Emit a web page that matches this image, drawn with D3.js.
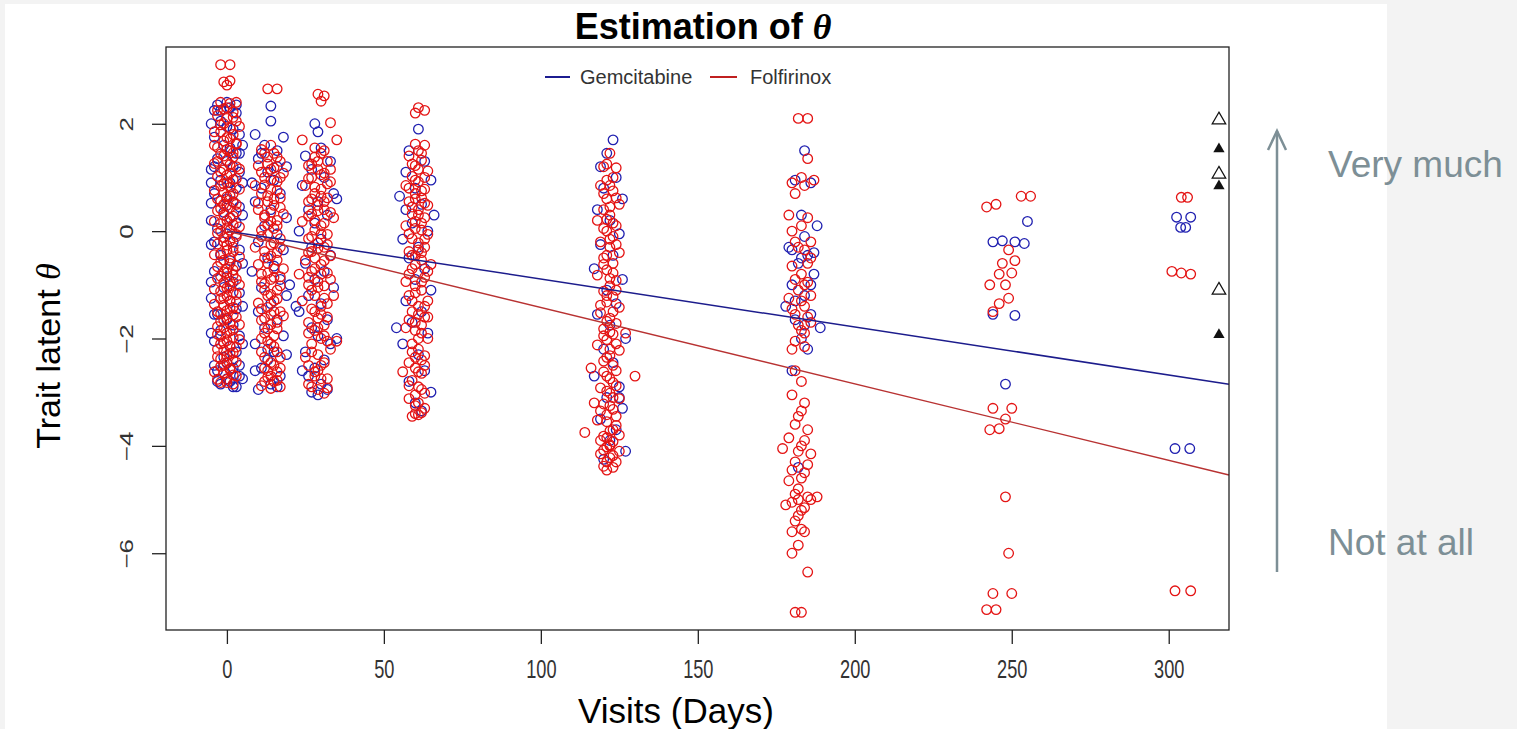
<!DOCTYPE html>
<html><head><meta charset="utf-8">
<script src="https://cdn.jsdelivr.net/npm/d3@7"></script>
<style>body{margin:0;background:#f3f3f3;}svg{display:block;}</style>
</head><body>
<script>
// ---------- DATA ----------
const xTicks = [0, 50, 100, 150, 200, 250, 300];
const yTicks = [2, 0, -2, -4, -6];
const seriesNames = ["Gemcitabine", "Folfirinox"];

// [day, theta] per visit, Gemcitabine
const gemV0 = [[-3,2.35],[1,2.3],[3,2.2],[-2,2.05],[0,1.95],[2,1.9],[-4,1.75],[4,1.8],[-1,1.6],[1,1.55],[3,1.45],[-3,1.35],[0,1.3],[2,1.2],[-5,1.15],[4,1.1],[-2,0.95],[1,0.9],[3,0.8],[-4,0.7],[0,0.6],[2,0.55],[-5,0.52],[4,0.45],[-1,0.35],[1,0.25],[3,0.15],[-3,0.05],[0,-0.05],[-5,-0.25],[2,-0.2],[4,-0.35],[-2,-0.45],[1,-0.55],[3,-0.65],[-4,-0.75],[0,-0.85],[2,-0.95],[-1,-1.05],[4,-1.15],[-5,-1.25],[1,-1.3],[3,-1.45],[-3,-1.55],[0,-1.65],[2,-1.75],[-2,-1.85],[4,-1.95],[-4,-2.05],[1,-2.15],[3,-2.25],[-1,-2.35],[0,-2.45],[2,-2.55],[-3,-2.6],[4,-2.7],[1,-2.8],[-2,-2.85],[3,-2.9],[0,-2.75],
  [-5,2.0],[5,1.6],[-4,1.2],[5,0.3],[-5,0.9],[5,-0.6],[-4,-0.2],[5,-1.4],[-5,-1.9],[5,-2.1],[-4,-2.5],[4,-2.5],[-4,2.25],[3,2.35],[0,2.4],[-5,-0.95],[5,0.9],[-4,-1.55],[4,1.45],[-5,0.2],[-3,-2.8],[2,-2.9],[5,-2.75],[-2,2.25]];
const gemV14 = [[14,2.33],[14,2.05],[9,1.8],[18,1.75],[12,1.6],[16,1.5],[10,1.35],[19,1.2],[13,1.1],[15,0.95],[11,0.8],[17,0.7],[9,0.55],[14,0.4],[19,0.25],[12,0.1],[16,-0.05],[10,-0.2],[18,-0.35],[13,-0.5],[15,-0.65],[8,-0.75],[17,-0.9],[11,-1.05],[19,-1.2],[14,-1.35],[10,-1.5],[16,-1.65],[12,-1.8],[18,-1.95],[9,-2.1],[15,-2.25],[13,-2.4],[11,-2.55],[17,-2.7],[14,-2.85],[10,-2.95],[16,-2.9],[20,-1.0],[8,0.9],
  [19,-2.3],[9,-2.6],[13,-2.2],[16,1.2],[11,1.45]];
const gemV28 = [[28,2.0],[29,1.85],[30,1.55],[25,1.4],[33,1.3],[27,1.15],[31,1.0],[24,0.85],[34,0.7],[29,0.55],[26,0.4],[32,0.3],[28,0.15],[35,0.6],[23,0.0],[30,-0.15],[27,-0.3],[33,-0.45],[25,-0.6],[31,-0.75],[28,-0.9],[34,-1.05],[26,-1.2],[30,-1.35],[23,-1.5],[32,-1.65],[27,-1.8],[29,-1.95],[33,-2.1],[25,-2.25],[31,-2.4],[22,-1.4],[28,-2.55],[26,-2.7],[30,-2.85],[32,-2.95],[27,-3.0],[29,-3.05],[24,-2.6],[35,-2.0]];
const gemV60 = [[61,1.9],[58,1.5],[63,1.3],[57,1.1],[65,0.95],[60,0.8],[55,0.65],[62,0.5],[66,0.3],[59,0.15],[64,0.0],[56,-0.15],[61,-0.3],[58,-0.5],[63,-0.7],[54,-1.8],[60,-0.9],[65,-1.1],[57,-1.3],[62,-1.5],[59,-1.7],[64,-1.9],[56,-2.1],[61,-2.3],[63,-2.6],[58,-2.8],[65,-3.0],[60,-3.2],[62,-3.35],[57,0.4]];
const gemV120 = [[123,1.7],[121,1.45],[119,1.2],[124,1.0],[120,0.8],[126,0.6],[118,0.4],[122,0.2],[125,-0.05],[119,-0.25],[123,-0.45],[117,-0.7],[126,-0.9],[121,-1.1],[124,-1.35],[118,-1.55],[122,-1.75],[127,-2.0],[120,-2.2],[123,-2.45],[117,-2.7],[125,-2.9],[121,-3.1],[126,-3.3],[119,-3.5],[124,-3.7],[122,-3.9],[127,-4.1],[120,-4.25],[125,-3.1]];
const gemV182 = [[184,1.5],[181,0.95],[186,0.9],[183,0.3],[188,0.1],[179,-0.3],[185,-0.45],[182,-0.6],[187,-0.8],[180,-1.0],[184,-1.2],[178,-1.4],[186,-1.55],[181,-1.65],[189,-1.8],[183,-2.0],[185,-2.2],[182,-4.4],[180,-2.6],[184,-0.1],
  [183,-0.5],[186,-1.0],[181,-1.3],[184,-1.75],[180,-0.35],[187,-0.4]];
const gemV245 = [[255,0.18],[244,-0.2],[247,-0.18],[251,-0.2],[254,-0.23],[244,-1.55],[251,-1.57],[248,-2.85]];
const gemV305 = [[302.5,0.26],[307,0.26],[303.8,0.07],[305.4,0.07],[302,-4.05],[306.7,-4.05]];

// [day, theta] per visit, Folfirinox
const folV0 = [[-2,3.1],[1,3.1],[-1,2.78],[1,2.8],[0,2.72],[-2,2.4],[1,2.38],[3,2.4],[-1,2.28],[2,2.22],[-3,2.15],[0,2.1],[3,2.05],[-2,1.98],[1,1.92],[-4,1.85],[2,1.8],[0,1.74],[-1,1.68],[3,1.62],[-3,1.56],[1,1.5],[-2,1.44],[2,1.38],[0,1.32],[-4,1.26],[3,1.2],[-1,1.14],[1,1.08],[-3,1.02],[2,0.96],[0,0.9],[-2,0.84],[4,0.78],[-1,0.72],[1,0.66],[-3,0.6],[2,0.54],[0,0.48],[-2,0.42],[3,0.36],[-1,0.3],[1,0.24],[-4,0.18],[2,0.12],[0,0.06],[-2,0.0],[3,-0.06],[-1,-0.12],[1,-0.18],[-3,-0.24],[2,-0.3],[0,-0.36],[-2,-0.42],[4,-0.48],[-1,-0.54],[1,-0.6],[-3,-0.66],[2,-0.72],[0,-0.78],[-2,-0.84],[3,-0.9],[-1,-0.96],[1,-1.02],[-4,-1.08],[2,-1.14],[0,-1.2],[-2,-1.26],[3,-1.32],[-1,-1.38],[1,-1.44],[-3,-1.5],[2,-1.56],[0,-1.62],[-2,-1.68],[4,-1.74],[-1,-1.8],[1,-1.86],[-3,-1.92],[2,-1.98],[0,-2.04],[-2,-2.1],[3,-2.16],[-1,-2.22],[1,-2.28],[-3,-2.34],[2,-2.4],[0,-2.46],[-2,-2.52],[1,-2.58],[-1,-2.64],[3,-2.7],[0,-2.76],[-2,-2.82],[2,-2.85],
  [0,2.3],[-3,2.25],[2,2.12],[-1,2.0],[4,1.95],[-2,1.85],[1,1.72],[3,1.64],[-4,1.6],[0,1.52],[2,1.46],[-1,1.4],[-3,1.3],[1,1.24],[4,1.16],[-2,1.1],[0,1.04],[3,0.98],[-1,0.88],[1,0.82],[-4,0.76],[2,0.7],[0,0.64],[-2,0.56],[3,0.5],[1,0.44],[-3,0.38],[-1,0.5],[2,0.28],[0,0.2],[-2,0.14],[4,0.08],[1,0.02],[-3,-0.04],[3,-0.1],[-1,-0.2],[0,-0.26],[2,-0.38],[-4,-0.44],[1,-0.5],[-2,-0.58],[3,-0.64],[0,-0.7],[-1,-0.76],[2,-0.82],[-3,-0.88],[1,-0.94],[4,-1.0],[0,-1.06],[-2,-1.12],[3,-1.18],[-1,-1.24],[1,-1.3],[-4,-1.36],[2,-1.42],[0,-1.48],[-2,-1.54],[3,-1.6],[-1,-1.66],[1,-1.72],[-3,-1.78],[2,-1.84],[0,-1.9],[-2,-1.96],[4,-2.02],[-1,-2.08],[1,-2.14],[-3,-2.2],[2,-2.26],[0,-2.32],[-2,-2.38],[3,-2.44],[-1,-2.5],[1,-2.56],[-4,-2.62],[2,-2.68],[0,-2.82],[-3,-2.76]];
const folV14 = [[13,2.65],[16,2.65],[11,1.52],[15,1.45],[13,1.38],[17,1.3],[10,1.22],[14,1.15],[18,1.08],[12,1.0],[16,0.92],[9,0.85],[14,0.78],[11,0.7],[17,0.62],[13,0.55],[15,0.48],[10,0.4],[18,0.32],[12,0.25],[14,0.18],[16,0.1],[11,0.02],[13,-0.06],[17,-0.14],[15,-0.22],[9,-0.3],[12,-0.38],[14,-0.46],[16,-0.54],[10,-0.62],[18,-0.7],[13,-0.78],[15,-0.86],[11,-0.94],[17,-1.02],[12,-1.1],[14,-1.18],[16,-1.26],[10,-1.34],[13,-1.42],[15,-1.5],[18,-1.58],[11,-1.66],[14,-1.74],[16,-1.82],[12,-1.9],[13,-2.05],[15,-2.15],[11,-2.25],[17,-2.35],[14,-2.45],[12,-2.55],[16,-2.62],[13,-2.72],[15,-2.8],[11,-2.88],[14,-2.93],[17,-2.9],
  [14,1.6],[12,1.45],[16,1.38],[13,1.25],[15,1.18],[11,1.1],[17,1.0],[14,0.95],[12,0.86],[16,0.76],[13,0.66],[15,0.6],[10,0.52],[17,0.44],[14,0.35],[12,0.3],[16,0.2],[13,0.12],[15,0.05],[11,-0.1],[17,-0.3],[14,-0.25],[12,-0.5],[16,-0.4],[13,-0.6],[15,-0.7],[11,-0.8],[14,-0.9],[17,-0.85],[12,-0.98],[16,-1.1],[13,-1.2],[15,-1.3],[11,-1.45],[14,-1.55],[17,-1.5],[12,-1.62],[16,-1.7],[13,-1.82],[15,-1.95],[11,-2.0],[14,-2.1],[16,-2.25],[12,-2.35],[15,-2.5],[13,-2.6],[17,-2.55],[14,-2.7],[12,-2.8],[16,-2.78]];
const folV28 = [[29,2.55],[31,2.52],[30,2.42],[33,2.02],[35,1.7],[24,1.7],[30,1.45],[28,1.38],[32,1.3],[26,1.22],[29,1.15],[31,1.08],[27,1.0],[33,0.92],[25,0.85],[30,0.78],[28,0.7],[32,0.62],[26,0.55],[29,0.48],[31,0.4],[27,0.32],[34,0.25],[24,0.18],[30,0.1],[28,0.02],[32,-0.06],[26,-0.14],[29,-0.22],[31,-0.3],[27,-0.38],[33,-0.46],[25,-0.54],[30,-0.62],[28,-0.7],[32,-0.78],[26,-0.86],[29,-0.94],[31,-1.02],[27,-1.1],[34,-1.2],[24,-1.3],[30,-1.4],[28,-1.5],[32,-1.6],[26,-1.7],[29,-1.8],[31,-1.95],[27,-2.1],[33,-2.2],[25,-2.35],[30,-2.5],[28,-2.62],[32,-2.75],[26,-2.85],[29,-2.95],[31,-3.02],[35,-2.05],[23,-0.8],
  [28,1.55],[31,1.5],[29,1.3],[27,1.25],[33,1.15],[30,1.05],[26,0.98],[32,0.88],[28,0.82],[30,0.65],[27,0.6],[31,0.55],[29,0.38],[33,0.35],[26,0.28],[28,0.2],[31,0.15],[30,-0.05],[27,-0.1],[29,-0.32],[32,-0.25],[26,-0.4],[28,-0.5],[31,-0.55],[30,-0.8],[27,-0.75],[33,-0.9],[29,-1.05],[26,-1.0],[28,-1.2],[31,-1.25],[30,-1.55],[27,-1.45],[32,-1.35],[29,-1.62],[26,-1.9],[28,-1.85],[31,-1.75],[30,-2.0],[27,-2.25],[32,-2.05],[29,-2.3],[26,-2.5],[31,-2.45],[28,-2.7],[30,-2.75],[27,-2.9],[32,-2.92],[29,-2.6]];
const folV60 = [[61,2.3],[63,2.25],[60,2.2],[60,1.62],[63,1.6],[58,1.4],[62,1.32],[60,1.22],[64,1.12],[59,1.02],[61,0.92],[57,0.85],[63,0.78],[60,0.7],[62,0.62],[58,0.55],[64,0.48],[61,0.4],[59,0.32],[63,0.25],[60,0.18],[57,0.1],[62,0.02],[64,-0.06],[59,-0.14],[61,-0.22],[63,-0.3],[58,-0.38],[60,-0.46],[62,-0.54],[65,-0.62],[59,-0.7],[61,-0.78],[63,-0.86],[57,-0.94],[60,-1.02],[62,-1.1],[58,-1.2],[64,-1.3],[61,-1.4],[59,-1.5],[63,-1.6],[60,-1.7],[57,-1.8],[62,-1.9],[64,-2.0],[59,-2.1],[61,-2.2],[63,-2.32],[58,-2.45],[60,-2.55],[62,-2.65],[56,-2.62],[59,-2.78],[61,-2.9],[63,-3.02],[58,-3.12],[60,-3.25],[62,-3.38],[59,-3.45],[61,-3.42],
  [61,1.5],[62,1.45],[59,1.25],[61,1.15],[63,1.0],[60,0.95],[58,0.8],[62,0.75],[60,0.6],[63,0.52],[59,0.45],[61,0.3],[62,0.15],[60,0.05],[58,-0.05],[63,-0.15],[61,-0.35],[59,-0.45],[62,-0.4],[60,-0.62],[64,-0.75],[58,-0.8],[62,-0.95],[60,-1.15],[59,-1.3],[63,-1.4],[61,-1.55],[58,-1.65],[62,-1.75],[60,-1.85],[64,-1.6],[61,-2.0],[59,-2.25],[62,-2.4],[60,-2.35],[63,-2.5],[61,-2.62],[58,-2.88],[62,-2.95],[60,-3.05],[61,-3.2],[63,-3.3],[60,-3.4]];
const folV120 = [[122,1.45],[120,1.2],[124,1.18],[121,0.95],[119,0.85],[123,0.75],[121,0.6],[125,0.5],[120,0.4],[122,0.3],[118,0.2],[124,0.1],[121,0.0],[123,-0.1],[119,-0.2],[122,-0.3],[125,-0.4],[120,-0.5],[123,-0.6],[121,-0.72],[118,-0.82],[124,-0.92],[122,-1.02],[120,-1.12],[123,-1.22],[121,-1.32],[125,-1.42],[119,-1.52],[122,-1.62],[124,-1.72],[120,-1.82],[123,-1.92],[121,-2.02],[118,-2.12],[125,-2.22],[122,-2.32],[120,-2.42],[116,-2.55],[124,-2.6],[121,-2.7],[130,-2.7],[123,-2.82],[119,-2.92],[122,-3.02],[125,-3.12],[120,-3.22],[123,-3.32],[121,-3.42],[118,-3.52],[124,-3.62],[122,-3.72],[114,-3.75],[120,-3.82],[123,-3.92],[121,-4.02],[125,-4.1],[119,-4.15],[122,-4.22],[124,-4.3],[120,-4.38],[121,-4.45],[117,-3.2],[127,-1.9],
  [121,1.25],[123,1.0],[122,0.85],[120,0.7],[124,0.62],[122,0.45],[121,0.22],[123,0.15],[120,0.05],[122,-0.15],[124,-0.25],[121,-0.45],[120,-0.62],[123,-0.78],[122,-0.88],[124,-1.1],[121,-1.2],[119,-1.38],[123,-1.5],[121,-1.68],[122,-1.88],[120,-1.95],[124,-2.1],[122,-2.2],[121,-2.35],[123,-2.5],[120,-2.62],[122,-2.75],[124,-2.88],[121,-2.98],[123,-3.1],[122,-3.25],[119,-3.35],[121,-3.55],[124,-3.45],[123,-3.7],[121,-3.85],[122,-3.98],[120,-4.08],[123,-4.18],[121,-4.3],[123,-4.4],[122,-4.0],[119,-3.9],[125,-3.8]];
const folV182 = [[182,2.1],[185,2.1],[185,1.35],[183,1.0],[187,0.95],[180,0.9],[184,0.85],[181,0.7],[179,0.3],[185,0.25],[183,0.1],[181,-0.2],[184,-0.35],[186,-0.5],[180,-0.65],[183,-0.8],[185,-0.95],[182,-1.1],[179,-1.25],[184,-1.4],[181,-1.55],[186,-1.7],[183,-1.85],[180,-2.2],[184,-2.15],[181,-2.6],[183,-2.8],[180,-3.05],[184,-3.2],[182,-3.45],[185,-3.7],[179,-3.85],[183,-4.0],[186,-4.15],[181,-4.3],[184,-4.5],[179,-4.65],[182,-4.8],[185,-4.95],[180,-5.05],[183,-5.2],[178,-5.1],[186,-5.0],[181,-5.4],[184,-5.6],[182,-5.85],[180,-6.0],[185,-6.35],[181,-7.1],[183,-7.1],[188,-4.95],[177,-4.05],
  [182,-0.3],[185,-0.6],[181,-0.9],[184,-1.0],[183,-1.3],[186,-1.2],[180,-1.45],[185,-1.6],[182,-1.75],[184,-1.9],[181,-2.05],[183,-3.35],[181,-3.6],[184,-3.9],[182,-4.1],[185,-4.35],[180,-4.45],[183,-4.6],[181,-4.9],[184,-5.15],[182,-5.3],[180,-5.6],[183,-5.55],[182,-5.0],[186,-0.2],[180,0.0]];
const folV245 = [[253,0.65],[256,0.65],[242,0.45],[245,0.5],[249,-0.35],[251,-0.55],[246,-0.8],[250,-0.78],[243,-1.0],[248,-1.0],[249,-1.25],[246,-1.35],[244,-3.3],[250,-3.3],[248,-3.5],[243,-3.7],[246,-3.68],[248,-4.95],[249,-6.0],[244,-6.75],[250,-6.75],[242,-7.05],[245,-7.05],[247,-0.6],[244,-1.5]];
const folV305 = [[304,0.63],[306,0.63],[301,-0.75],[304,-0.78],[307,-0.8],[302,-6.7],[307,-6.7]];

// regression lines [intercept, slope] and their day span
const gemFit = [0.0, -0.00893];
const folFit = [0.0, -0.01423];
const fitDays = [0, 319.2];

// reference triangles at right edge
const triDay = 316;
const triOpen = [2.07, 1.06, -1.1];
const triFilled = [1.53, 0.84, -1.93];

// ---------- DRAW ----------
const W = 1517, H = 729;
const svg = d3.select("body").append("svg").attr("width", W).attr("height", H);
svg.append("rect").attr("width", W).attr("height", H).attr("fill", "#f3f3f3");
svg.append("rect").attr("x", 5).attr("y", 4).attr("width", 1382).attr("height", H - 4).attr("fill", "#ffffff");

const x = d3.scaleLinear().domain([-19.4, 319.2]).range([166, 1229]);
const y = d3.scaleLinear().domain([-7.43, 3.43]).range([630, 47]);

const BLUE = "#2020b0", RED = "#e41414";

const gemAll = [].concat(gemV0, gemV14, gemV28, gemV60, gemV120, gemV182, gemV245, gemV305);
const folAll = [].concat(folV0, folV14, folV28, folV60, folV120, folV182, folV245, folV305);

const pts = svg.append("g");
pts.selectAll("circle.g").data(gemAll).join("circle").attr("class", "g")
  .attr("cx", d => x(d[0])).attr("cy", d => y(d[1])).attr("r", 4.8)
  .attr("fill", "none").attr("stroke", BLUE).attr("stroke-width", 1.3);
pts.selectAll("circle.f").data(folAll).join("circle").attr("class", "f")
  .attr("cx", d => x(d[0])).attr("cy", d => y(d[1])).attr("r", 4.8)
  .attr("fill", "none").attr("stroke", RED).attr("stroke-width", 1.3);

const line = d3.line().x(d => x(d[0])).y(d => y(d[1]));
function fitPts(f) { return fitDays.map(t => [t, f[0] + f[1] * t]); }
svg.append("path").attr("d", line(fitPts(gemFit))).attr("stroke", "#1c1c8c").attr("stroke-width", 1.5).attr("fill", "none");
svg.append("path").attr("d", line(fitPts(folFit))).attr("stroke", "#b83232").attr("stroke-width", 1.4).attr("fill", "none");

// triangles
const triBig = d3.symbol().type(d3.symbolTriangle).size(80);
const triSmall = d3.symbol().type(d3.symbolTriangle).size(55);
svg.selectAll("path.to").data(triOpen).join("path").attr("class", "to")
  .attr("transform", d => `translate(${x(triDay)},${y(d)})`).attr("d", triBig)
  .attr("fill", "none").attr("stroke", "#111").attr("stroke-width", 1.2);
svg.selectAll("path.tf").data(triFilled).join("path").attr("class", "tf")
  .attr("transform", d => `translate(${x(triDay)},${y(d)})`).attr("d", triSmall)
  .attr("fill", "#111");

// frame
svg.append("rect").attr("x", x.range()[0]).attr("y", y.range()[1])
  .attr("width", x.range()[1] - x.range()[0]).attr("height", y.range()[0] - y.range()[1])
  .attr("fill", "none").attr("stroke", "#222").attr("stroke-width", 1.3);

// axes
const font = "Liberation Sans, Arial, sans-serif";
const xa = svg.append("g").attr("transform", `translate(0,${y.range()[0]})`)
  .call(d3.axisBottom(x).tickValues(xTicks).tickSize(14).tickPadding(16));
xa.select(".domain").remove();
xa.selectAll("line").attr("stroke", "#222").attr("stroke-width", 1.3);
xa.selectAll("text").attr("font-size", 26).attr("font-family", font).attr("fill", "#333")
  .attr("transform", "scale(0.7,1)");

const ya = svg.append("g").attr("transform", `translate(${x.range()[0]},0)`)
  .call(d3.axisLeft(y).tickValues(yTicks).tickSize(14));
ya.select(".domain").remove();
ya.selectAll("line").attr("stroke", "#222").attr("stroke-width", 1.3);
ya.selectAll("text").attr("x", 0).attr("dy", 0).attr("font-size", 26).attr("font-family", font)
  .attr("fill", "#333").attr("text-anchor", "middle")
  .attr("transform", "translate(-33,0) scale(0.7,1) rotate(-90)");

// legend
const legY = 77;
const legItems = [{name: seriesNames[0], c: "#1c1c90", x0: 545, x1: 570, tx: 580},
                  {name: seriesNames[1], c: "#c02020", x0: 710, x1: 737, tx: 750}];
const lg = svg.append("g");
legItems.forEach(it => {
  lg.append("line").attr("x1", it.x0).attr("x2", it.x1).attr("y1", legY).attr("y2", legY)
    .attr("stroke", it.c).attr("stroke-width", 2);
  lg.append("text").attr("x", it.tx).attr("y", legY + 7)
    .attr("font-family", font).attr("font-size", 20).attr("fill", "#333").text(it.name);
});

// titles
const t = svg.append("text").attr("x", 703).attr("y", 39).attr("text-anchor", "middle")
  .attr("font-family", font).attr("font-weight", "bold").attr("font-size", 36).attr("fill", "#000");
t.append("tspan").text("Estimation of ");
t.append("tspan").attr("font-family", "Liberation Serif, Times New Roman, serif").attr("font-style", "italic").text("θ");

svg.append("text").attr("x", 676).attr("y", 723).attr("text-anchor", "middle")
  .attr("font-family", font).attr("font-size", 35).attr("fill", "#000").text("Visits (Days)");

const yt = svg.append("text").attr("transform", "translate(60,356) rotate(-90)").attr("text-anchor", "middle")
  .attr("font-family", font).attr("font-size", 34).attr("fill", "#000");
yt.append("tspan").text("Trait latent ");
yt.append("tspan").attr("font-family", "Liberation Serif, Times New Roman, serif").attr("font-style", "italic").text("θ");

// annotation arrow and labels
const ann = "#7d8f96";
svg.append("line").attr("x1", 1277).attr("x2", 1277).attr("y1", 572).attr("y2", 131)
  .attr("stroke", ann).attr("stroke-width", 2.5);
svg.append("path").attr("d", "M1268,150 L1277,131 L1286,150").attr("fill", "none")
  .attr("stroke", ann).attr("stroke-width", 2.5);
svg.append("text").attr("x", 1328).attr("y", 177).attr("font-family", font).attr("font-size", 37)
  .attr("fill", ann).text("Very much");
svg.append("text").attr("x", 1328).attr("y", 555).attr("font-family", font).attr("font-size", 37)
  .attr("fill", ann).text("Not at all");
</script>
</body></html>
